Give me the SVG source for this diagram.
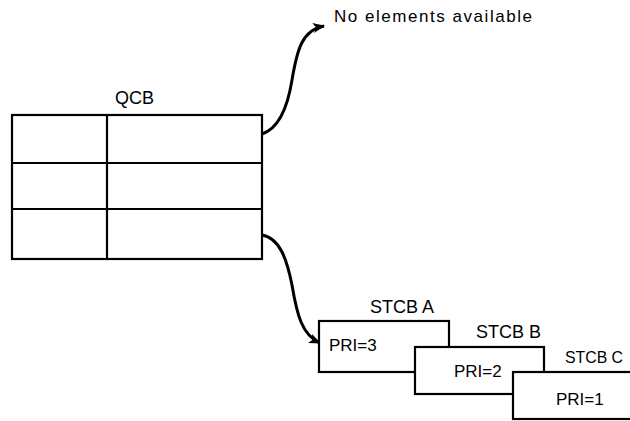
<svg xmlns="http://www.w3.org/2000/svg" width="630" height="421" viewBox="0 0 630 421">
<style>
.t{font-family:"Liberation Sans",Arial,sans-serif;fill:#000}
.box{fill:#fff;stroke:#000;stroke-width:2.2}
.ln{stroke:#000;stroke-width:2.2;fill:none}
.arr{stroke:#000;stroke-width:3;fill:none;marker-end:url(#ah)}
</style>
<defs>
<marker id="ah" markerWidth="12" markerHeight="10" refX="11" refY="5" orient="auto" markerUnits="userSpaceOnUse">
<path d="M0,0 L12,5 L0,10 L3,5 Z" fill="#000"/>
</marker>
</defs>
<rect width="630" height="421" fill="#fff"/>
<g id="connectors">
<path class="arr" d="M262,134 C280,128 288,105 292,80 C297,50 302,30 324,26"/>
<path class="arr" d="M262,235 C280,238 287,260 292,285 C297,315 302,335 320,343"/>
</g>
<g id="qcb">
<text class="t" x="115" y="104" font-size="18">QCB</text>
<rect class="box" x="12" y="115" width="250" height="144"/>
<line class="ln" x1="12" y1="163" x2="262" y2="163"/>
<line class="ln" x1="12" y1="209" x2="262" y2="209"/>
<line class="ln" x1="107" y1="115" x2="107" y2="259"/>
</g>
<g id="no-elements">
<text class="t" x="334" y="22" font-size="17" textLength="198" lengthAdjust="spacing">No elements available</text>
</g>
<g id="stcb-a">
<text class="t" x="370" y="313" font-size="18">STCB A</text>
<rect class="box" x="319" y="321" width="130" height="51"/>
<text class="t" x="329" y="351" font-size="17">PRI=3</text>
</g>
<g id="stcb-b">
<text class="t" x="476" y="338" font-size="18">STCB B</text>
<rect class="box" x="415" y="347" width="129" height="47"/>
<text class="t" x="454" y="377" font-size="17">PRI=2</text>
</g>
<g id="stcb-c">
<text class="t" x="565" y="363" font-size="17" textLength="58" lengthAdjust="spacingAndGlyphs">STCB C</text>
<rect class="box" x="513" y="372" width="140" height="47"/>
<text class="t" x="556" y="405" font-size="17">PRI=1</text>
</g>
</svg>
